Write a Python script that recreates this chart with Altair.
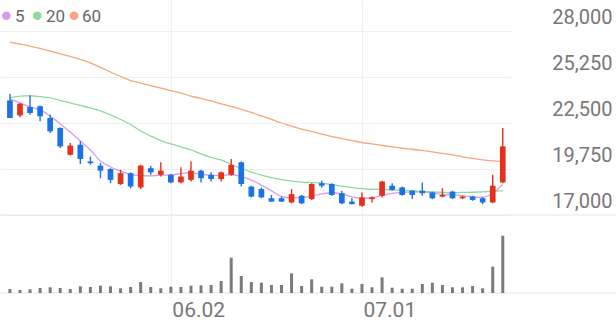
import altair as alt
import pandas as pd

# ---------------- data ----------------
TICK_IDX = [16, 35]
TICK_LABELS = ["06.02", "07.01"]
PRICE_TICKS = [17000, 19750, 22500, 25250, 28000]

OPEN = [23850, 22950, 23450, 23500, 22800, 22200, 20600, 21200, 20200, 19950,
        19750, 18850, 19500, 18650, 19800, 19400, 19400, 18950, 19100, 19650,
        19400, 19150, 19400, 20150, 18700, 18550, 18000, 18000, 17750, 18150,
        17950, 18900, 18850, 18300, 17800, 17550, 17950, 18150, 18750, 18650,
        18450, 18450, 18350, 18100, 18400, 18000, 18100, 18000, 17750, 18950]
HIGH = [24250, 23700, 24150, 23550, 23000, 22250, 21300, 21400, 20500, 20100,
        19800, 19700, 19550, 20000, 19950, 20150, 19450, 19850, 20200, 19700,
        19550, 19600, 20350, 20200, 18750, 18650, 18200, 18100, 18550, 18200,
        18900, 19050, 18900, 18450, 18000, 18350, 18100, 19050, 18900, 18700,
        18500, 18950, 18400, 18600, 18450, 18150, 18150, 18050, 19400, 22200]
LOW = [22800, 22850, 23000, 22600, 21900, 21000, 20550, 20050, 20000, 19200,
       18900, 18800, 18600, 18550, 19400, 19300, 18900, 18900, 19000, 18950,
       19000, 19000, 19350, 18700, 18050, 18000, 17800, 17800, 17700, 17650,
       17900, 18650, 18150, 17650, 17650, 17500, 17750, 18050, 18450, 18150,
       17950, 18150, 17950, 18050, 17950, 17950, 17850, 17650, 17700, 18900]
CLOSE = [22800, 23650, 23100, 22900, 22000, 21100, 21150, 20350, 20100, 19650,
         19100, 19500, 18700, 19950, 19550, 19650, 18950, 19300, 19650, 19200,
         19150, 19550, 20000, 18850, 18100, 18050, 17800, 17800, 18250, 17700,
         18850, 18750, 18200, 17700, 17650, 18050, 18050, 19000, 18500, 18200,
         18200, 18300, 18000, 18200, 18000, 18100, 17900, 17750, 18750, 21100]
VOLUME = [40, 30, 37, 50, 57, 50, 40, 67, 60, 73,
          67, 47, 60, 110, 60, 47, 63, 60, 73, 77,
          80, 120, 353, 170, 110, 103, 80, 80, 197, 70,
          137, 63, 63, 97, 43, 90, 57, 157, 53, 43,
          43, 90, 103, 80, 57, 57, 70, 47, 263, 573]

MA5 = [23940, 23700, 23460, 23280, 22920, 22440, 21960, 21420, 20890, 20230,
       19870, 19630, 19420, 19360, 19340, 19380, 19390, 19480, 19530, 19420,
       19380, 19350, 19420, 19300, 19090, 18790, 18440, 18110, 18020, 18030,
       18140, 18260, 18330, 18260, 18080, 18000, 18030, 18170, 18290, 18350,
       18380, 18390, 18320, 18230, 18200, 18150, 18090, 18060, 18300, 18820]
MA20 = [24020, 24110, 24130, 24080, 24000, 23850, 23700, 23550, 23400, 23220,
        22980, 22710, 22410, 22020, 21720, 21450, 21250, 21070, 20890, 20650,
        20440, 20290, 20020, 19780, 19570, 19390, 19240, 19120, 19030, 18970,
        18940, 18900, 18820, 18730, 18640, 18580, 18540, 18530, 18500, 18470,
        18440, 18410, 18380, 18350, 18330, 18350, 18360, 18380, 18410, 18450]
MA60 = [27340, 27220, 27100, 26950, 26800, 26630, 26480, 26300, 26090, 25820,
        25550, 25280, 25040, 24890, 24740, 24590, 24440, 24290, 24110, 23970,
        23820, 23640, 23490, 23310, 23130, 22920, 22710, 22500, 22320, 22140,
        21990, 21840, 21690, 21570, 21450, 21330, 21250, 21160, 21070, 20990,
        20930, 20860, 20770, 20680, 20590, 20480, 20380, 20290, 20230, 20190]

MA_NAMES = ["5", "20", "60"]
MA_COLORS = ["#d69bf3", "#8fd99d", "#f9a57d"]
UP_COLOR = "#e5301b"
DOWN_COLOR = "#1a72e6"
VOL_COLOR = "#7b7b7b"
TEXT_COLOR = "#777777"
GRID_COLOR = "#f0f0f0"
SEP_COLOR = "#e6e6e6"

# ---------------- tables ----------------
n = len(OPEN)
idx = list(range(n))
candles = pd.DataFrame({"idx": idx, "open": OPEN, "high": HIGH, "low": LOW,
                        "close": CLOSE, "volume": VOLUME})
candles["dir"] = ["up" if c >= o else "down" for o, c in zip(OPEN, CLOSE)]

ma = pd.DataFrame({"idx": idx, "5": MA5, "20": MA20, "60": MA60}).melt(
    "idx", var_name="series", value_name="ma")

sep_price = pd.DataFrame({"p": [PRICE_TICKS[0]], "idx": [16]})
sep_vol = pd.DataFrame({"v": [0], "idx": [16]})

# ---------------- layout ----------------
W, H = 511, 293
x_scale = alt.Scale(domain=[-0.49, 49.32], nice=False, zero=False)
price_scale = alt.Scale(domain=[12337, 29853], nice=False, zero=False)
vol_scale = alt.Scale(domain=[0, 2930], nice=False, zero=True)

label_expr = " : ".join(
    [f"datum.value == {i} ? '{t}'" for i, t in zip(TICK_IDX, TICK_LABELS)]) + " : ''"

x_axis = alt.Axis(values=TICK_IDX, labelExpr=label_expr, labelAlign="left",
                  labelBaseline="alphabetic", labelPadding=23, labelFontSize=21,
                  labelColor=TEXT_COLOR, labelFont="Roboto", labelOffset=1,
                  labelFlush=False, ticks=False, tickSize=0, domain=False,
                  grid=True, gridColor=GRID_COLOR, title=None)
y_axis = alt.Axis(orient="right", values=PRICE_TICKS,
                  labelExpr="format(datum.value, ',.0f')",
                  labelAlign="right", labelPadding=101, labelBaseline="alphabetic",
                  labelOffset=-7, labelFontSize=20, labelColor=TEXT_COLOR,
                  labelFont="Roboto", ticks=False, tickSize=0, domain=False,
                  grid=True, gridColor=GRID_COLOR, title=None)

X = alt.X("idx:Q", scale=x_scale, axis=x_axis)
dir_color = alt.Color("dir:N", scale=alt.Scale(domain=["up", "down"],
                      range=[UP_COLOR, DOWN_COLOR]), legend=None)

base = alt.Chart(candles)

grid = base.mark_rule(opacity=0).encode(
    x=X, y=alt.Y("close:Q", scale=price_scale, axis=y_axis))

full_rule = alt.Chart(sep_price).mark_rule(color=SEP_COLOR, strokeWidth=1).encode(
    x=alt.value(0), x2=alt.value(616),
    y=alt.Y("p:Q", scale=price_scale, axis=None))

lines = alt.Chart(ma).mark_line(strokeWidth=1.3, interpolate="monotone").encode(
    x=X,
    y=alt.Y("ma:Q", scale=price_scale, axis=None),
    color=alt.Color("series:N", scale=alt.Scale(domain=MA_NAMES, range=MA_COLORS),
                    legend=None),
    order=alt.Order("idx:Q"))

wicks = base.mark_rule(strokeWidth=1.4).encode(
    x=X, y=alt.Y("low:Q", scale=price_scale, axis=None), y2="high:Q", color=dir_color)

bodies = base.mark_bar(size=5.7).encode(
    x=X, y=alt.Y("open:Q", scale=price_scale, axis=None), y2="close:Q", color=dir_color)

vol_bars = base.mark_bar(size=3, color=VOL_COLOR).encode(
    x=X, y=alt.Y("volume:Q", scale=vol_scale, axis=None))

vol_base = alt.Chart(sep_vol).mark_rule(color=SEP_COLOR, strokeWidth=1).encode(
    x=alt.value(0), x2=alt.value(616),
    y=alt.Y("v:Q", scale=vol_scale, axis=None))

# legend (top-left)
LEG_DOT_X = [6.3, 37.3, 74.0]
LEG_TEXT_X = [15, 46, 82]
legend_df = pd.DataFrame({"name": MA_NAMES})
legend_layers = []
for k, (name, col) in enumerate(zip(MA_NAMES, MA_COLORS)):
    sub = legend_df.iloc[[k]]
    legend_layers.append(alt.Chart(sub).mark_circle(size=74, color=col, opacity=1).encode(
        x=alt.value(LEG_DOT_X[k]), y=alt.value(15.8)))
    legend_layers.append(alt.Chart(sub).mark_text(
        align="left", baseline="alphabetic", fontSize=17, font="Roboto",
        color="#666666").encode(text="name:N", x=alt.value(LEG_TEXT_X[k]),
                                y=alt.value(21.7)))

chart = alt.layer(grid, full_rule, vol_base, lines, wicks, bodies, vol_bars,
                  *legend_layers).resolve_scale(
    y="independent", color="independent").properties(
    width=W, height=H,
    padding={"left": 0, "top": 0, "right": 105, "bottom": 28},
    autosize=alt.AutoSizeParams(type="none"),
    background="white",
).configure_view(strokeWidth=0)

chart.save("out.html", embed_options={"renderer": "svg", "actions": False})
